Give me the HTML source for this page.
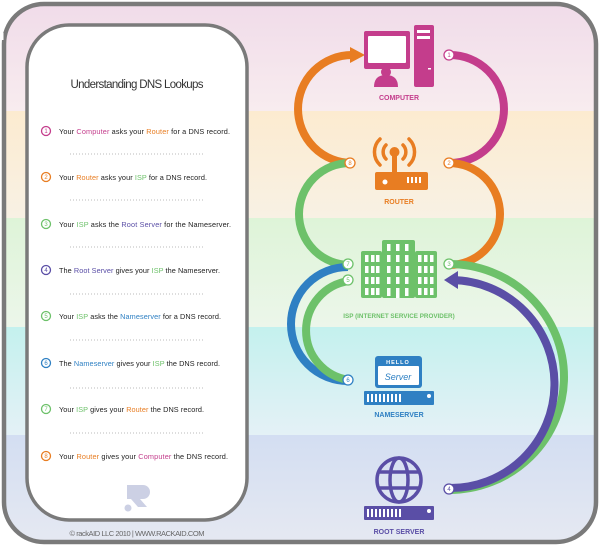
<!DOCTYPE html>
<html><head><meta charset="utf-8"><style>
html,body{margin:0;padding:0;width:600px;height:546px;overflow:hidden;background:#fff}
svg{display:block}
text{font-family:"Liberation Sans",sans-serif}
</style></head><body>
<svg width="600" height="546" viewBox="0 0 600 546" xmlns="http://www.w3.org/2000/svg">
<defs>
<linearGradient id="b1" x1="0" y1="0" x2="0" y2="1"><stop offset="0" stop-color="#f0dbe9"/><stop offset="1" stop-color="#f8ecef"/></linearGradient>
<linearGradient id="b2" x1="0" y1="0" x2="0" y2="1"><stop offset="0" stop-color="#fcebd0"/><stop offset="1" stop-color="#f8f1e4"/></linearGradient>
<linearGradient id="b3" x1="0" y1="0" x2="0" y2="1"><stop offset="0" stop-color="#def4d8"/><stop offset="1" stop-color="#ecf6ea"/></linearGradient>
<linearGradient id="b4" x1="0" y1="0" x2="0" y2="1"><stop offset="0" stop-color="#c4f1ee"/><stop offset="1" stop-color="#e4f1f6"/></linearGradient>
<linearGradient id="b5" x1="0" y1="0" x2="0" y2="1"><stop offset="0" stop-color="#d3def2"/><stop offset="1" stop-color="#e6e9f2"/></linearGradient>
<clipPath id="fr"><rect x="4" y="4" width="592" height="538" rx="40"/></clipPath>
</defs>
<g clip-path="url(#fr)">
<rect x="0" y="0" width="600" height="111" fill="url(#b1)"/>
<rect x="0" y="111" width="600" height="107" fill="url(#b2)"/>
<rect x="0" y="218" width="600" height="109" fill="url(#b3)"/>
<rect x="0" y="327" width="600" height="108" fill="url(#b4)"/>
<rect x="0" y="435" width="600" height="111" fill="url(#b5)"/>
</g>
<rect x="4" y="4" width="592" height="538" rx="40" fill="none" stroke="#7a7a7a" stroke-width="4.5"/>
<rect x="27" y="25" width="220" height="495" rx="42" fill="#fff" stroke="#7a7a7a" stroke-width="3.5"/>

<text x="137" y="88" font-size="11.5" fill="#333" text-anchor="middle" textLength="133">Understanding DNS Lookups</text>
<g font-size="7.3" fill="#222">
<g stroke-width="1.3" fill="#fff">
<circle cx="46" cy="131" r="4.5" stroke="#c43d8c"/><circle cx="46" cy="177" r="4.5" stroke="#e87d22"/>
<circle cx="46" cy="224" r="4.5" stroke="#6dc16a"/><circle cx="46" cy="270" r="4.5" stroke="#5a4ea6"/>
<circle cx="46" cy="316" r="4.5" stroke="#6dc16a"/><circle cx="46" cy="363" r="4.5" stroke="#2f80c3"/>
<circle cx="46" cy="409" r="4.5" stroke="#6dc16a"/><circle cx="46" cy="456" r="4.5" stroke="#e87d22"/>
</g>
<g font-size="6" text-anchor="middle">
<text x="46" y="133" fill="#c43d8c">1</text><text x="46" y="179" fill="#e87d22">2</text>
<text x="46" y="226" fill="#6dc16a">3</text><text x="46" y="272" fill="#5a4ea6">4</text>
<text x="46" y="318" fill="#6dc16a">5</text><text x="46" y="365" fill="#2f80c3">6</text>
<text x="46" y="411" fill="#6dc16a">7</text><text x="46" y="458" fill="#e87d22">8</text>
</g>
<text x="59" y="134" textLength="171">Your <tspan fill="#c43d8c">Computer</tspan> asks your <tspan fill="#e87d22">Router</tspan> for a DNS record.</text>
<text x="59" y="180" textLength="148">Your <tspan fill="#e87d22">Router</tspan> asks your <tspan fill="#6dc16a">ISP</tspan> for a DNS record.</text>
<text x="59" y="227" textLength="172">Your <tspan fill="#6dc16a">ISP</tspan> asks the <tspan fill="#5a4ea6">Root Server</tspan> for the Nameserver.</text>
<text x="59" y="273" textLength="161">The <tspan fill="#5a4ea6">Root Server</tspan> gives your <tspan fill="#6dc16a">ISP</tspan> the Nameserver.</text>
<text x="59" y="319" textLength="162">Your <tspan fill="#6dc16a">ISP</tspan> asks the <tspan fill="#2f80c3">Nameserver</tspan> for a DNS record.</text>
<text x="59" y="366" textLength="161">The <tspan fill="#2f80c3">Nameserver</tspan> gives your <tspan fill="#6dc16a">ISP</tspan> the DNS record.</text>
<text x="59" y="412" textLength="145">Your <tspan fill="#6dc16a">ISP</tspan> gives your <tspan fill="#e87d22">Router</tspan> the DNS record.</text>
<text x="59" y="459" textLength="169">Your <tspan fill="#e87d22">Router</tspan> gives your <tspan fill="#c43d8c">Computer</tspan> the DNS record.</text>
</g>
<g stroke="#bbb" stroke-width="1" stroke-dasharray="1,2">
<line x1="70" y1="154" x2="203" y2="154"/><line x1="70" y1="200" x2="203" y2="200"/>
<line x1="70" y1="247" x2="203" y2="247"/><line x1="70" y1="294" x2="203" y2="294"/>
<line x1="70" y1="340" x2="203" y2="340"/><line x1="70" y1="388" x2="203" y2="388"/>
<line x1="70" y1="433" x2="203" y2="433"/>
</g>
<g fill="#ccd0e4">
<path d="M127,485 h16 a7,7 0 0 1 0,14 h-3 l7,8 h-9 l-7,-8 h-4 z"/>
<circle cx="128" cy="508" r="3.5"/>
</g>
<text x="137" y="536" font-size="7.5" fill="#666" text-anchor="middle" textLength="135">© rackAID LLC 2010 | WWW.RACKAID.COM</text>

<g fill="none" stroke-width="8">
<path d="M450,55 A54,54 0 0 1 450,163" stroke="#c43d8c"/>
<path d="M352,163 A54,54 0 0 1 352,55" stroke="#e87d22"/>
<path d="M449,163 A51,51 0 0 1 449,265" stroke="#e87d22"/>
<path d="M350,163 A51,51 0 0 0 350,265" stroke="#6dc16a"/>
<path d="M348,267 A57,57 0 0 0 348,381" stroke="#2f80c3"/>
<path d="M349,281 A50,50 0 0 0 349,380" stroke="#6dc16a"/>
<path d="M449,264 A115,113 0 0 1 449,490" stroke="#6dc16a"/>
<path d="M449,488 A104,104 0 0 0 452,280" stroke="#5a4ea6"/>
</g>
<polygon points="350,47 365,55 350,63" fill="#e87d22"/>
<polygon points="444,280 458,271 458,289" fill="#5a4ea6"/>
<g fill="#fff" stroke-width="1.3">
<circle cx="449" cy="55" r="5" stroke="#c43d8c"/>
<circle cx="449" cy="163" r="5" stroke="#e87d22"/>
<circle cx="350" cy="163" r="5" stroke="#e87d22"/>
<circle cx="449" cy="264" r="5" stroke="#6dc16a"/>
<circle cx="348" cy="264" r="5" stroke="#6dc16a"/>
<circle cx="348" cy="280" r="5" stroke="#6dc16a"/>
<circle cx="348" cy="380" r="5" stroke="#2f80c3"/>
<circle cx="449" cy="489" r="5" stroke="#5a4ea6"/>
</g>
<g font-size="6" text-anchor="middle">
<text x="449" y="57" fill="#c43d8c">1</text><text x="449" y="165" fill="#e87d22">2</text>
<text x="350" y="165" fill="#e87d22">8</text><text x="449" y="266" fill="#6dc16a">3</text>
<text x="348" y="266" fill="#6dc16a">7</text><text x="348" y="282" fill="#6dc16a">5</text>
<text x="348" y="382" fill="#2f80c3">6</text><text x="449" y="491" fill="#5a4ea6">4</text>
</g>

<g fill="#c43d8c">
<rect x="364" y="31" width="46" height="38" rx="2"/>
<rect x="368" y="36" width="38" height="27" fill="#fff" rx="1"/>
<path d="M374,87 q0,-12 12,-12 q12,0 12,12 z"/>
<circle cx="386" cy="72" r="5"/>
<rect x="414" y="25" width="20" height="62" rx="2"/>
</g>
<rect x="417" y="30" width="13" height="3" fill="#fff"/><rect x="417" y="36" width="13" height="3" fill="#fff"/>
<rect x="428" y="68" width="3" height="1.5" fill="#fff"/>
<text x="399" y="100" font-size="7" fill="#c43d8c" text-anchor="middle" font-weight="bold">COMPUTER</text>

<g fill="#e87d22">
<rect x="375" y="172" width="53" height="18" rx="2"/>
<rect x="392" y="150" width="5" height="24"/>
<circle cx="394.5" cy="152" r="5"/>
</g>
<g fill="none" stroke="#e87d22" stroke-width="3.5" stroke-linecap="round">
<path d="M386,145 a10,10 0 0 0 0,14"/><path d="M403,145 a10,10 0 0 1 0,14"/>
<path d="M380,139 a18,18 0 0 0 0,26"/><path d="M409,139 a18,18 0 0 1 0,26"/>
</g>
<circle cx="385" cy="182" r="2.5" fill="#fff"/>
<g fill="#fff"><rect x="407" y="177" width="2" height="6"/><rect x="411" y="177" width="2" height="6"/><rect x="415" y="177" width="2" height="6"/><rect x="419" y="177" width="2" height="6"/></g>
<text x="399" y="204" font-size="7" fill="#e87d22" text-anchor="middle" font-weight="bold">ROUTER</text>

<g fill="#6dc16a">
<rect x="361" y="251" width="21" height="47" rx="2"/>
<rect x="382" y="240" width="33" height="58" rx="2"/>
<rect x="415" y="251" width="22" height="47" rx="2"/>
</g>
<g fill="#fff">
<g id="col"><rect x="0" y="0" width="3.5" height="7"/><rect x="0" y="11" width="3.5" height="7"/><rect x="0" y="22" width="3.5" height="7"/><rect x="0" y="33" width="3.5" height="7"/></g>
</g>
<g fill="#fff">
<use href="#col" x="365" y="255"/><use href="#col" x="371" y="255"/><use href="#col" x="376" y="255"/>
<use href="#col" x="418" y="255"/><use href="#col" x="424" y="255"/><use href="#col" x="430" y="255"/>
<use href="#col" x="387" y="244"/><use href="#col" x="396" y="244"/><use href="#col" x="405" y="244"/>
<rect x="387" y="288" width="3.5" height="8"/><rect x="396" y="288" width="3.5" height="10"/><rect x="405" y="288" width="3.5" height="8"/>
</g>
<text x="399" y="318" font-size="6.3" fill="#6dc16a" text-anchor="middle" font-weight="bold">ISP (INTERNET SERVICE PROVIDER)</text>

<rect x="375" y="356" width="47" height="32" rx="3" fill="#2f80c3"/>
<rect x="378" y="366" width="41" height="19" rx="1" fill="#fff"/>
<text x="398" y="364" font-size="5.5" fill="#fff" text-anchor="middle" font-weight="bold" letter-spacing="1">HELLO</text>
<text x="398" y="380" font-size="9" fill="#2f80c3" text-anchor="middle" font-style="italic">Server</text>
<rect x="364" y="391" width="70" height="14" rx="1" fill="#2f80c3"/>
<g fill="#fff"><rect x="367" y="394" width="2" height="8"/><rect x="371" y="394" width="2" height="8"/><rect x="375" y="394" width="2" height="8"/><rect x="379" y="394" width="2" height="8"/><rect x="383" y="394" width="2" height="8"/><rect x="387" y="394" width="2" height="8"/><rect x="391" y="394" width="2" height="8"/><rect x="395" y="394" width="2" height="8"/><rect x="399" y="394" width="2" height="8"/><circle cx="429" cy="396" r="2"/></g>
<text x="399" y="417" font-size="7" fill="#2f80c3" text-anchor="middle" font-weight="bold">NAMESERVER</text>

<g fill="none" stroke="#5a4ea6" stroke-width="3.5">
<circle cx="399" cy="480" r="22"/>
<ellipse cx="399" cy="480" rx="9" ry="22"/>
<line x1="378" y1="472" x2="420" y2="472"/><line x1="378" y1="488" x2="420" y2="488"/>
</g>
<rect x="364" y="506" width="70" height="14" rx="1" fill="#5a4ea6"/>
<g fill="#fff"><rect x="367" y="509" width="2" height="8"/><rect x="371" y="509" width="2" height="8"/><rect x="375" y="509" width="2" height="8"/><rect x="379" y="509" width="2" height="8"/><rect x="383" y="509" width="2" height="8"/><rect x="387" y="509" width="2" height="8"/><rect x="391" y="509" width="2" height="8"/><rect x="395" y="509" width="2" height="8"/><rect x="399" y="509" width="2" height="8"/><circle cx="429" cy="511" r="2"/></g>
<text x="399" y="534" font-size="7" fill="#5a4ea6" text-anchor="middle" font-weight="bold">ROOT SERVER</text>
</svg>
</body></html>
